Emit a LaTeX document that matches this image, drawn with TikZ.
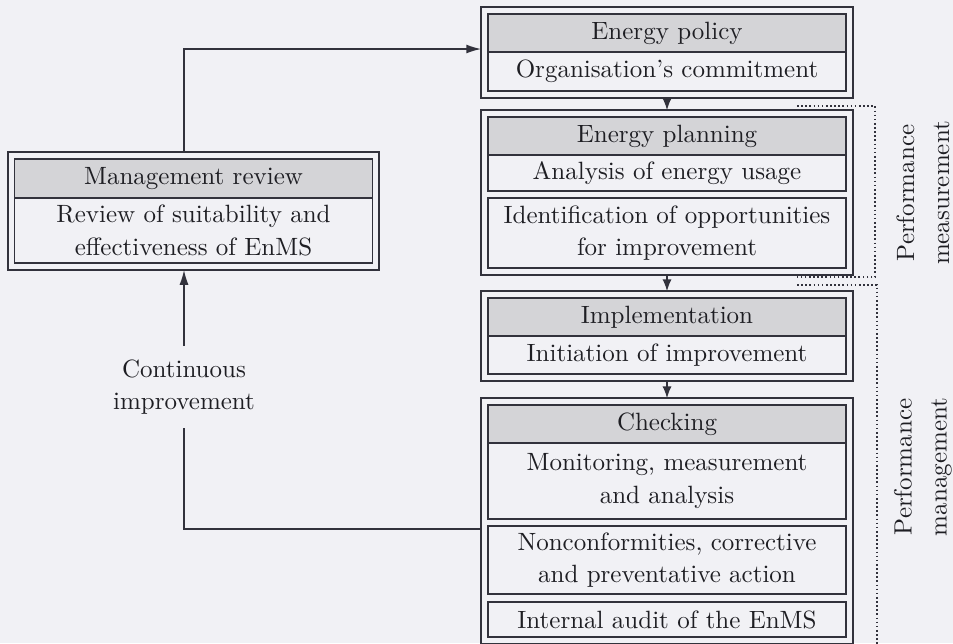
\documentclass[tikz,border=0pt]{standalone}
\usetikzlibrary{positioning,fit,arrows.meta}

\definecolor{bgpaper}{RGB}{241,241,245}
\definecolor{headgray}{RGB}{212,212,215}
\definecolor{inkline}{RGB}{50,50,60}
\definecolor{inktext}{RGB}{30,30,35}

\tikzset{
	headbox/.style={draw, fill=headgray, minimum width=143.2pt, minimum height=#1, inner sep=0pt, outer sep=0pt, align=center},
	rowbox/.style={draw, minimum width=143.2pt, minimum height=#1, inner sep=0pt, outer sep=0pt, align=center},
	framebox/.style={draw, inner sep=2.7pt, outer sep=0pt},
	sidelabel/.style={rotate=90, align=center, font=\fontsize{10}{14}\selectfont},
	looparrow/.style={-{Latex[length=6pt,width=3.6pt]}},
}

\begin{document}
\begin{tikzpicture}[x=0.4pt, y=-0.4pt, >=latex, color=inkline, line width=0.65pt,
	every node/.append style={text=inktext, font=\fontsize{10}{13}\selectfont}]
	\useasboundingbox[fill=bgpaper] (0,0) rectangle (953,643);
	
	% energy policy
	\node[headbox=15.2pt] (polh) at (667,33) {Energy policy};
	\node[rowbox=15.6pt, below=0pt of polh] (pol1) {Organisation's commitment};
	\node[framebox, fit=(polh)(pol1)] (pol) {};
	
	% energy planning
	\node[headbox=15.2pt] (planh) at (667,136) {Energy planning};
	\node[rowbox=14.4pt, below=0pt of planh] (plan1) {Analysis of energy usage};
	\node[rowbox=28pt, below=2.8pt of plan1] (plan2) {Identification of opportunities\\for improvement};
	\node[framebox, fit=(planh)(plan2)] (plan) {};
	
	% implementation
	\node[headbox=15.2pt] (implh) at (667,317) {Implementation};
	\node[rowbox=15.2pt, below=0pt of implh] (impl1) {Initiation of improvement};
	\node[framebox, fit=(implh)(impl1)] (impl) {};
	
	% checking
	\node[headbox=15.2pt] (chkh) at (667,424) {Checking};
	\node[rowbox=30.4pt, below=0pt of chkh] (chk1) {Monitoring, measurement\\and analysis};
	\node[rowbox=27.2pt, below=2.8pt of chk1] (chk2) {Nonconformities, corrective\\and preventative action};
	\node[rowbox=14pt, below=3.2pt of chk2] (chk3) {Internal audit of the EnMS};
	\node[framebox, fit=(chkh)(chk3)] (chk) {};
	
	% management review
	\node[headbox=15.6pt] (revh) at (193.5,178.5) {Management review};
	\node[rowbox=26pt, below=0pt of revh] (rev1) {Review of suitability and\\effectiveness of EnMS};
	\node[framebox, fit=(revh)(rev1)] (rev) {};
	
	\draw[->] (pol) -- (plan);
	\draw[->] (plan) -- (impl);
	\draw[->] (impl) -- (chk);
	
	% loop back
	\node[align=center, inner sep=5pt] (cont) at (184,387) {Continuous\\improvement};
	\coordinate (turnup) at (184,49);
	\coordinate (turndown) at (184,529);
	\draw[looparrow] (turnup |- rev.north) -- (turnup) -- (turnup -| pol.west);
	\draw (turndown -| chk.west) -- (turndown) -- (cont);
	\draw[looparrow] (cont) -- (turndown |- rev.south);
	
	% brackets
	\draw[densely dotted] (797,106) -- (875,106) -- (875,277) -- (797,277);
	\draw[densely dotted] (797,285) -- (877,285) -- (877,650);
	\node[sidelabel] (meas) at (923,193) {Performance\\measurement};
	\node[sidelabel] (mgmt) at (923,467) {Performance\\management};
\end{tikzpicture}
\end{document}
